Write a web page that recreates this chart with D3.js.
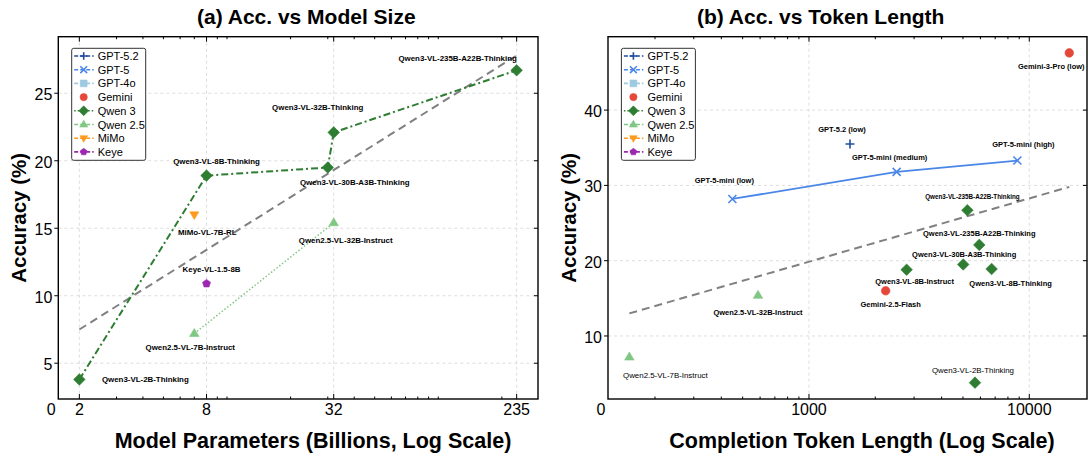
<!DOCTYPE html>
<html>
<head>
<meta charset="utf-8">
<script src="https://cdn.jsdelivr.net/npm/d3@7"></script>
<style>
  body { margin: 0; background: #fff; }
  text { font-family: "Liberation Sans", Arial, sans-serif; fill: #000; }
</style>
</head>
<body>
<svg id="chart" width="1089" height="456"></svg>
<script>
// ---------- panel (a): accuracy vs model size ----------
var qwen3Params = [2, 8, 30, 32, 235];
var qwen3AccA = [3.8, 18.9, 19.5, 22.1, 26.7];
var qwen3NamesA = ["Qwen3-VL-2B-Thinking", "Qwen3-VL-8B-Thinking", "Qwen3-VL-30B-A3B-Thinking",
  "Qwen3-VL-32B-Thinking", "Qwen3-VL-235B-A22B-Thinking"];
var qwen25Params = [7, 32];
var qwen25AccA = [7.2, 15.4];
var qwen25NamesA = ["Qwen2.5-VL-7B-Instruct", "Qwen2.5-VL-32B-Instruct"];
var mimoParams = [7];
var mimoAcc = [16.0];
var mimoNames = ["MiMo-VL-7B-RL"];
var keyeParams = [8];
var keyeAcc = [10.9];
var keyeNames = ["Keye-VL-1.5-8B"];
var trendA = [[2, 7.5], [235, 27.8]];
var paramTicks = [2, 8, 32, 235];
var accTicksA = [5, 10, 15, 20, 25];

// ---------- panel (b): accuracy vs token length ----------
var gpt52Tokens = [1535];
var gpt52Acc = [35.5];
var gpt52Names = ["GPT-5.2 (low)"];
var gpt5Tokens = [449, 2500, 8830];
var gpt5Acc = [28.2, 31.8, 33.3];
var gpt5Names = ["GPT-5-mini (low)", "GPT-5-mini (medium)", "GPT-5-mini (high)"];
var geminiTokens = [2229, 15190];
var geminiAcc = [16.0, 47.6];
var geminiNames = ["Gemini-2.5-Flash", "Gemini-3-Pro (low)"];
var qwen3Tokens = [5670, 2775, 6745, 5013, 5930, 5236];
var qwen3AccB = [3.8, 18.8, 18.9, 19.5, 22.1, 26.7];
var qwen3NamesB = ["Qwen3-VL-2B-Thinking", "Qwen3-VL-8B-Instruct", "Qwen3-VL-8B-Thinking",
  "Qwen3-VL-30B-A3B-Thinking", "Qwen3-VL-235B-A22B-Thinking", "Qwen3-VL-235B-A22B-Thinking"];
var qwen25Tokens = [153, 587];
var qwen25AccB = [7.2, 15.4];
var trendB = [[153, 13.0], [15190, 29.8]];
var tokenTicks = [1000, 10000];
var accTicksB = [10, 20, 30, 40];

var legendNames = ["GPT-5.2", "GPT-5", "GPT-4o", "Gemini", "Qwen 3", "Qwen 2.5", "MiMo", "Keye"];

// styles per family
var styles = {
  "GPT-5.2": { color: "#1f4e9e", marker: "plus", dash: "4,2" },
  "GPT-5": { color: "#4a86e8", marker: "x", dash: "4,2" },
  "GPT-4o": { color: "#9ecae1", marker: "square", dash: "4,2" },
  "Gemini": { color: "#e5483b", marker: "circle", dash: null },
  "Qwen 3": { color: "#2e7d32", marker: "diamond", dash: "1.5,2" },
  "Qwen 2.5": { color: "#81c784", marker: "triangle", dash: "4,2" },
  "MiMo": { color: "#ff9a1f", marker: "triDown", dash: "4,2" },
  "Keye": { color: "#9c27b0", marker: "pentagon", dash: "4,2" }
};

var svg = d3.select("#chart");

function markerPath(type, r) {
  var i, a, pts = [];
  switch (type) {
    case "plus": return "M" + (-r) + ",0H" + r + "M0," + (-r) + "V" + r;
    case "x": return "M" + (-r) + "," + (-r) + "L" + r + "," + r + "M" + (-r) + "," + r + "L" + r + "," + (-r);
    case "square": return "M" + (-r) + "," + (-r) + "H" + r + "V" + r + "H" + (-r) + "Z";
    case "circle": return d3.symbol().type(d3.symbolCircle).size(Math.PI * r * r)();
    case "diamond": return "M0," + (-r) + "L" + r + ",0L0," + r + "L" + (-r) + ",0Z";
    case "triangle": return "M0," + (-r) + "L" + (r * 0.95) + "," + (r * 0.6) + "L" + (-r * 0.95) + "," + (r * 0.6) + "Z";
    case "triDown": return "M0," + r + "L" + (r * 0.95) + "," + (-r * 0.6) + "L" + (-r * 0.95) + "," + (-r * 0.6) + "Z";
    case "pentagon":
      for (i = 0; i < 5; i++) {
        a = -Math.PI / 2 + i * 2 * Math.PI / 5;
        pts.push([r * Math.cos(a), r * Math.sin(a)]);
      }
      return "M" + pts.join("L") + "Z";
  }
}

var markerSize = { plus: 4.5, x: 4, square: 4, circle: 4.3, diamond: 5.8, triangle: 5, triDown: 4.8, pentagon: 4.2 };

function drawMarker(sel, family, scale) {
  var st = styles[family];
  var open = st.marker === "plus" || st.marker === "x";
  sel.append("path")
    .attr("d", markerPath(st.marker, markerSize[st.marker] * (scale || 1)))
    .attr("fill", open ? "none" : st.color)
    .attr("stroke", st.color)
    .attr("stroke-width", open ? 1.6 : 0.6);
}

function drawPanel(cfg) {
  var g = svg.append("g");
  var x = d3.scaleLog().domain(cfg.xDomain).range([cfg.left, cfg.right]);
  var y = d3.scaleLinear().domain(cfg.yDomain).range([cfg.bottom, cfg.top]);

  //grid
  g.selectAll(".vgrid").data(cfg.xTicks).enter().append("line")
    .attr("x1", function(d) { return x(d); }).attr("x2", function(d) { return x(d); })
    .attr("y1", cfg.top).attr("y2", cfg.bottom)
    .attr("stroke", "#d9d9d9").attr("stroke-dasharray", "3,3").attr("stroke-width", 0.9);
  g.selectAll(".hgrid").data(cfg.yTicks).enter().append("line")
    .attr("y1", function(d) { return y(d); }).attr("y2", function(d) { return y(d); })
    .attr("x1", cfg.left).attr("x2", cfg.right)
    .attr("stroke", "#d9d9d9").attr("stroke-dasharray", "3,3").attr("stroke-width", 0.9);

  //trend line
  g.append("path")
    .attr("d", d3.line().x(function(d) { return x(d[0]); }).y(function(d) { return y(d[1]); })(cfg.trend))
    .attr("fill", "none").attr("stroke", "#808080").attr("stroke-width", 2).attr("stroke-dasharray", "8,5");

  //series lines
  cfg.series.forEach(function(s) {
    if (!s.line) return;
    var pts = s.x.map(function(v, i) { return [v, s.y[i]]; });
    if (s.sortLine) pts.sort(function(a, b) { return a[0] - b[0]; });
    g.append("path")
      .attr("d", d3.line().x(function(d) { return x(d[0]); }).y(function(d) { return y(d[1]); })(pts))
      .attr("fill", "none")
      .attr("stroke", styles[s.family].color)
      .attr("stroke-width", s.lineWidth || 1.8)
      .attr("stroke-dasharray", s.line === "solid" ? null : s.line);
  });

  //markers
  cfg.series.forEach(function(s) {
    s.x.forEach(function(v, i) {
      var m = g.append("g").attr("transform", "translate(" + x(v) + "," + y(s.y[i]) + ")");
      drawMarker(m, s.family, s.markerScale);
    });
  });

  //point labels
  cfg.series.forEach(function(s) {
    s.x.forEach(function(v, i) {
      var o = s.offsets[i];
      g.append("text")
        .attr("x", x(v) + o[0])
        .attr("y", y(s.y[i]) + o[1])
        .attr("dy", "0.35em")
        .attr("text-anchor", "middle")
        .style("font-size", (o[2] || cfg.labelSize) + "px")
        .style("font-weight", o[3] || "bold")
        .text(s.names[i]);
    });
  });

  //frame
  g.append("rect")
    .attr("x", cfg.left).attr("y", cfg.top)
    .attr("width", cfg.right - cfg.left).attr("height", cfg.bottom - cfg.top)
    .attr("fill", "none").attr("stroke", "#000").attr("stroke-width", 1.4);

  //x ticks (major + log minor), inward on top and bottom
  var minor = x.ticks().filter(function(d) {
    return cfg.xTicks.indexOf(d) < 0 && d >= cfg.xDomain[0] && d <= cfg.xDomain[1];
  });
  [[cfg.xTicks, 5], [minor, 2.5]].forEach(function(t) {
    g.selectAll(null).data(t[0]).enter().append("path")
      .attr("d", function(d) {
        return "M" + x(d) + "," + cfg.bottom + "v" + (-t[1]) + "M" + x(d) + "," + cfg.top + "v" + t[1];
      })
      .attr("stroke", "#000").attr("stroke-width", 1);
  });
  //y ticks: out on left, in on right
  g.selectAll(null).data(cfg.yTicks).enter().append("path")
    .attr("d", function(d) {
      return "M" + (cfg.left - 4) + "," + y(d) + "h4M" + cfg.right + "," + y(d) + "h-4";
    })
    .attr("stroke", "#000").attr("stroke-width", 1);

  //tick labels
  g.selectAll(null).data(cfg.xTicks).enter().append("text")
    .attr("x", function(d) { return x(d); })
    .attr("y", cfg.bottom + 16)
    .attr("text-anchor", "middle")
    .style("font-size", "16px")
    .text(function(d) { return d; });
  g.append("text")
    .attr("x", cfg.left - 7).attr("y", cfg.bottom + 16)
    .attr("text-anchor", "middle").style("font-size", "16px")
    .text("0");
  g.selectAll(null).data(cfg.yTicks).enter().append("text")
    .attr("x", cfg.left - 6)
    .attr("y", function(d) { return y(d) + 7; })
    .attr("text-anchor", "end")
    .style("font-size", "16px")
    .text(function(d) { return d; });

  //titles
  g.append("text")
    .attr("x", cfg.titleX).attr("y", 24)
    .style("font-size", "21px").style("font-weight", "bold")
    .text(cfg.title);
  g.append("text")
    .attr("x", cfg.xLabelX).attr("y", 447.5)
    .attr("text-anchor", "middle")
    .style("font-size", "21.5px").style("font-weight", "bold")
    .text(cfg.xLabel);
  g.append("text")
    .attr("transform", "translate(" + cfg.yLabelX + "," + ((cfg.top + cfg.bottom) / 2) + ") rotate(-90)")
    .attr("text-anchor", "middle")
    .style("font-size", "20.5px").style("font-weight", "bold")
    .text("Accuracy (%)");

  //legend
  var lx = cfg.left + 13.4, ly = cfg.top + 11.6;
  g.append("rect")
    .attr("x", lx).attr("y", ly).attr("width", 74).attr("height", 112)
    .attr("rx", 2)
    .attr("fill", "#fff").attr("stroke", "#333").attr("stroke-width", 1);
  var legend = g.selectAll(".legend").data(legendNames).enter().append("g")
    .attr("transform", function(d, i) {
      return "translate(" + lx + "," + (ly + 7.7 + i * 13.7) + ")";
    });
  legend.filter(function(d) { return styles[d].dash; })
    .append("line")
    .attr("x1", 2.5).attr("x2", 22)
    .attr("stroke", function(d) { return styles[d].color; })
    .attr("stroke-width", 1.6)
    .attr("stroke-dasharray", function(d) { return styles[d].dash; });
  legend.each(function(d) {
    var m = d3.select(this).append("g").attr("transform", "translate(12,0)");
    drawMarker(m, d, 0.85);
  });
  legend.append("text")
    .attr("x", 26).attr("y", 4)
    .style("font-size", "11px")
    .text(function(d) { return d; });
}

drawPanel({
  left: 58.3, right: 538, top: 36.7, bottom: 399,
  xDomain: [1.59, 296.6], yDomain: [2.35, 29.19],
  xTicks: paramTicks, yTicks: accTicksA,
  trend: trendA, labelSize: 7.9,
  title: "(a) Acc. vs Model Size", titleX: 197,
  xLabel: "Model Parameters (Billions, Log Scale)", xLabelX: 313, yLabelX: 26,
  series: [
    { family: "Qwen 3", x: qwen3Params, y: qwen3AccA, names: qwen3NamesA, line: "7,3,2,3", lineWidth: 2,
      offsets: [[66, 0], [10, -14], [27, 15], [-16, -25], [-59, -12]] },
    { family: "Qwen 2.5", x: qwen25Params, y: qwen25AccA, names: qwen25NamesA, line: "1.5,2", lineWidth: 1.5,
      offsets: [[-4, 14], [12, 17]] },
    { family: "MiMo", x: mimoParams, y: mimoAcc, names: mimoNames, offsets: [[13, 17]] },
    { family: "Keye", x: keyeParams, y: keyeAcc, names: keyeNames, offsets: [[5, -14]] }
  ]
});

drawPanel({
  left: 608, right: 1087, top: 36.7, bottom: 399,
  xDomain: [122.4, 18280], yDomain: [1.63, 49.75],
  xTicks: tokenTicks, yTicks: accTicksB,
  trend: trendB, labelSize: 7.5,
  title: "(b) Acc. vs Token Length", titleX: 697,
  xLabel: "Completion Token Length (Log Scale)", xLabelX: 862, yLabelX: 576,
  series: [
    { family: "GPT-5", x: gpt5Tokens, y: gpt5Acc, names: gpt5Names, line: "solid", lineWidth: 1.8,
      offsets: [[-8, -19], [-7, -14], [6, -16]] },
    { family: "GPT-5.2", x: gpt52Tokens, y: gpt52Acc, names: gpt52Names, offsets: [[-8, -15]] },
    { family: "Gemini", x: geminiTokens, y: geminiAcc, names: geminiNames, offsets: [[5, 14], [-18, 13]] },
    { family: "Qwen 3", x: qwen3Tokens, y: qwen3AccB, names: qwen3NamesB,
      offsets: [[-2, -12, 7.9, "normal"], [8, 12], [19, 14], [1, -10], [0, -12], [5, -13, 6.3]] },
    { family: "Qwen 2.5", x: qwen25Tokens, y: qwen25AccB, names: qwen25NamesA,
      offsets: [[36, 18, 7.9, "normal"], [0, 17]] }
  ]
});
</script>
</body>
</html>
